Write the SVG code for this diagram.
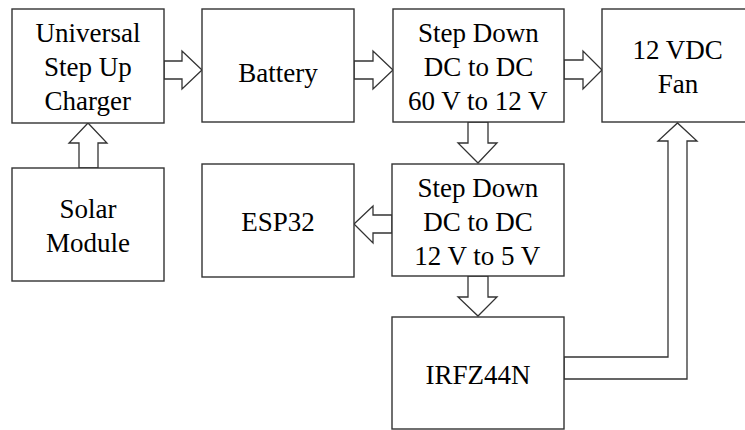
<svg xmlns="http://www.w3.org/2000/svg" width="745" height="430" viewBox="0 0 745 430">
<rect width="745" height="430" fill="#fff"/>
<g id="connectors" fill="#fff" stroke="#333" stroke-width="1.3">
<polygon points="164,61 182,61 182,51 202,70 182,89 182,79 164,79"/>
<polygon points="354,61 373,61 373,51 393,70 373,89 373,79 354,79"/>
<polygon points="564,60 583,60 583,51 602,70 583,89 583,79 564,79"/>
<polygon points="79,168 79,143 69,143 88,123 107,143 98,143 98,168"/>
<polygon points="468,122 468,143 458,143 478,163 497,143 488,143 488,122"/>
<polygon points="392,215 373,215 373,206 354,224 373,243 373,233 392,233"/>
<polygon points="468,276 468,297 458,297 478,316 497,297 488,297 488,276"/>
<polygon points="564,357 668,357 668,141 658,141 677.5,123 697,141 687,141 687,379 564,379"/>
</g>
<g id="charger"><rect x="12" y="9" width="152" height="114" fill="#fff" stroke="#333" stroke-width="1.4"/>
<text x="35.5" y="42" font-family="Liberation Serif" font-size="27">Universal</text>
<text x="44.1" y="76" font-family="Liberation Serif" font-size="27">Step Up</text>
<text x="44.5" y="110" font-family="Liberation Serif" font-size="27">Charger</text></g>
<g id="battery"><rect x="202" y="9" width="152" height="113" fill="#fff" stroke="#333" stroke-width="1.4"/>
<text x="238.3" y="82" font-family="Liberation Serif" font-size="27">Battery</text></g>
<g id="stepdown1"><rect x="393" y="9" width="171" height="113" fill="#fff" stroke="#333" stroke-width="1.4"/>
<text x="418.1" y="42" font-family="Liberation Serif" font-size="27">Step Down</text>
<text x="423.7" y="76" font-family="Liberation Serif" font-size="27">DC to DC</text>
<text x="408" y="110" font-family="Liberation Serif" font-size="27">60 V to 12 V</text></g>
<g id="fan"><rect x="602" y="9" width="155" height="113" fill="#fff" stroke="#333" stroke-width="1.4"/>
<text x="632.6" y="59" font-family="Liberation Serif" font-size="27">12 VDC</text>
<text x="657.8" y="93" font-family="Liberation Serif" font-size="27">Fan</text></g>
<g id="solar"><rect x="12" y="168" width="152" height="113" fill="#fff" stroke="#333" stroke-width="1.4"/>
<text x="59.5" y="218" font-family="Liberation Serif" font-size="27">Solar</text>
<text x="46" y="252" font-family="Liberation Serif" font-size="27">Module</text></g>
<g id="esp32"><rect x="202" y="164" width="152" height="113" fill="#fff" stroke="#333" stroke-width="1.4"/>
<text x="241.2" y="231" font-family="Liberation Serif" font-size="27">ESP32</text></g>
<g id="stepdown2"><rect x="392" y="164" width="172" height="112" fill="#fff" stroke="#333" stroke-width="1.4"/>
<text x="417.6" y="197" font-family="Liberation Serif" font-size="27">Step Down</text>
<text x="423.2" y="231" font-family="Liberation Serif" font-size="27">DC to DC</text>
<text x="414.3" y="265" font-family="Liberation Serif" font-size="27">12 V to 5 V</text></g>
<g id="irfz44n"><rect x="392" y="317" width="172" height="112" fill="#fff" stroke="#333" stroke-width="1.4"/>
<text x="425.5" y="384" font-family="Liberation Serif" font-size="27">IRFZ44N</text></g>
</svg>
